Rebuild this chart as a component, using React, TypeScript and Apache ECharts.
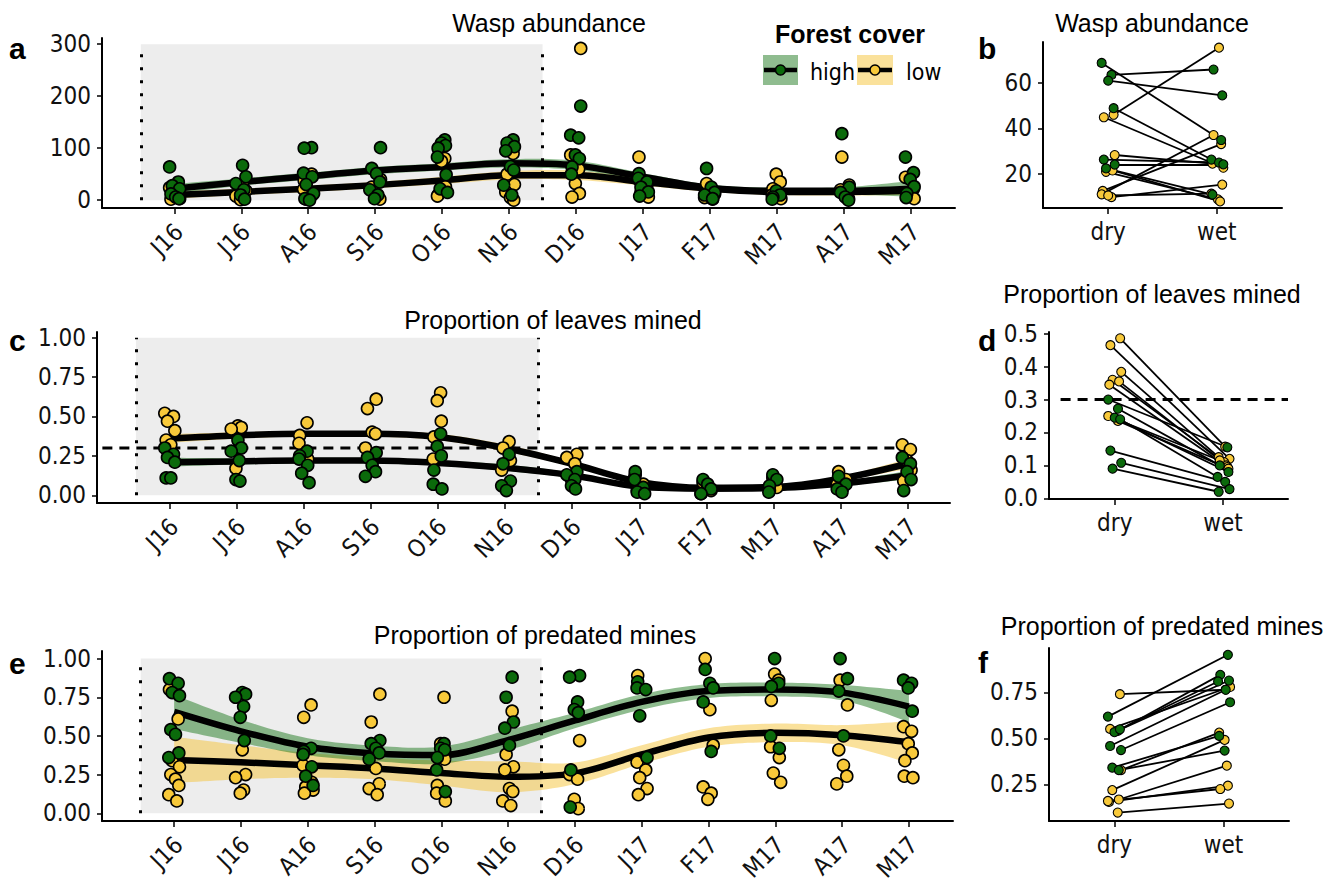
import React, { useEffect, useRef } from "react";
import * as echarts from "echarts";

// ---------------- categories ----------------
const months = ["J16", "J16", "A16", "S16", "O16", "N16", "D16", "J17", "F17", "M17", "A17", "M17"];
const seasons = ["dry", "wet"];

// ---------------- panel a: wasp abundance ----------------
const aHighPts = [
  [64, 35, 28, 22, 12, 6, 3],
  [67, 45, 32, 20, 10, 2],
  [101, 100, 52, 45, 30, 13, 3, 0],
  [101, 61, 51, 35, 20, 10, 3],
  [116, 110, 105, 100, 83, 49, 22, 15],
  [116, 110, 103, 95, 65, 58, 29, 10],
  [181, 125, 120, 87, 80, 64, 50],
  [51, 42, 35, 25, 16, 8],
  [61, 25, 15, 10, 3],
  [18, 10, 6, 2],
  [128, 25, 15, 6, 0],
  [83, 53, 40, 26, 13, 5],
];
const aLowPts = [
  [24, 15, 5, 3, 2],
  [30, 18, 8, 3, 1],
  [50, 38, 21, 10, 2],
  [40, 25, 10, 2],
  [80, 75, 26, 10, 8],
  [90, 50, 30, 16, 5, 0],
  [292, 87, 60, 32, 13, 6],
  [83, 40, 30, 15, 6],
  [32, 22, 12, 5, 2],
  [50, 35, 22, 10, 3],
  [83, 29, 20, 13, 3],
  [44, 22, 12, 3],
];
const aFitHigh = [22, 35, 46, 57, 64, 71, 67, 45, 24, 18, 18, 22];
const aBandHigh = [9, 7, 7, 7, 7, 8, 9, 7, 6, 6, 7, 15];
const aFitLow = [10, 16, 22, 29, 38, 48, 48, 35, 22, 16, 16, 18];
const aBandLow = [7, 6, 6, 6, 7, 8, 9, 7, 6, 6, 7, 8];
const aTicks = [0, 100, 200, 300];

// ---------------- panel b: wasp abundance dry vs wet ----------------
const bHighDry = [68.8, 63.5, 61.0, 48.9, 26.3, 24.1, 22.4];
const bHighWet = [34.9, 65.9, 54.5, 26.3, 25.0, 24.2, 10.9];
const bLowDry = [46.0, 44.9, 28.3, 20.9, 21.5, 12.5, 11.0, 9.8, 10.5];
const bLowWet = [75.5, 22.7, 24.5, 8.8, 7.9, 33.1, 37.1, 15.3, 11.3];
const bTicks = [20, 40, 60];

// ---------------- panel c: proportion of leaves mined ----------------
const cHighPts = [
  [0.30, 0.26, 0.24, 0.21, 0.11, 0.11],
  [0.35, 0.30, 0.28, 0.22, 0.10, 0.09],
  [0.28, 0.25, 0.23, 0.19, 0.14, 0.08],
  [0.27, 0.24, 0.19, 0.15, 0.12],
  [0.39, 0.31, 0.25, 0.16, 0.07, 0.04],
  [0.26, 0.20, 0.09, 0.06, 0.03],
  [0.15, 0.13, 0.10, 0.06, 0.04],
  [0.15, 0.10, 0.05, 0.02, 0.01],
  [0.10, 0.07, 0.04, 0.01],
  [0.13, 0.10, 0.06, 0.02],
  [0.12, 0.07, 0.04, 0.02],
  [0.24, 0.20, 0.15, 0.10, 0.03],
];
const cLowPts = [
  [0.52, 0.50, 0.47, 0.41, 0.35, 0.32],
  [0.44, 0.43, 0.42, 0.30, 0.17],
  [0.46, 0.38, 0.33, 0.23],
  [0.61, 0.55, 0.40, 0.39, 0.30],
  [0.65, 0.60, 0.47, 0.37, 0.23],
  [0.34, 0.30, 0.22, 0.16],
  [0.26, 0.24, 0.20, 0.10],
  [0.13, 0.11, 0.07, 0.03],
  [0.08, 0.05, 0.03, 0.01],
  [0.11, 0.05, 0.03],
  [0.15, 0.10, 0.07, 0.03],
  [0.32, 0.29, 0.22, 0.16, 0.09],
];
const cFitHigh = [0.21, 0.215, 0.22, 0.22, 0.205, 0.175, 0.127, 0.055, 0.042, 0.045, 0.074, 0.127];
const cBandHigh = [0.028, 0.02, 0.017, 0.017, 0.017, 0.02, 0.017, 0.014, 0.012, 0.012, 0.014, 0.028];
const cFitLow = [0.36, 0.38, 0.39, 0.39, 0.37, 0.30, 0.20, 0.085, 0.048, 0.052, 0.105, 0.20];
const cBandLow = [0.028, 0.02, 0.017, 0.017, 0.02, 0.022, 0.017, 0.014, 0.012, 0.012, 0.014, 0.032];
const cTicks = [0, 0.25, 0.5, 0.75, 1];
const cThreshold = 0.3;

// ---------------- panel d: leaves mined dry vs wet ----------------
const dHighDry = [0.30, 0.272, 0.245, 0.24, 0.145, 0.108, 0.09];
const dHighWet = [0.155, 0.10, 0.08, 0.065, 0.05, 0.028, 0.02];
const dLowDry = [0.486, 0.465, 0.384, 0.36, 0.355, 0.345, 0.25, 0.235];
const dLowWet = [0.157, 0.12, 0.125, 0.11, 0.10, 0.095, 0.115, 0.09];
const dTicks = [0, 0.1, 0.2, 0.3, 0.4, 0.5];

// ---------------- panel e: proportion of predated mines ----------------
const eHighPts = [
  [0.87, 0.84, 0.78, 0.76, 0.54, 0.51, 0.39, 0.36],
  [0.78, 0.77, 0.75, 0.69, 0.62, 0.47],
  [0.42, 0.40, 0.38, 0.30, 0.24, 0.18],
  [0.47, 0.45, 0.42, 0.39, 0.35],
  [0.45, 0.42, 0.41, 0.36, 0.28, 0.14],
  [0.88, 0.75, 0.59, 0.55, 0.44],
  [0.89, 0.88, 0.72, 0.67, 0.65, 0.28, 0.04],
  [0.85, 0.81, 0.80, 0.63, 0.36],
  [0.93, 0.84, 0.81, 0.72, 0.40],
  [1.0, 0.84, 0.82, 0.50, 0.42],
  [1.0, 0.87, 0.79, 0.50],
  [0.86, 0.84, 0.81, 0.66],
];
const eLowPts = [
  [0.80, 0.61, 0.34, 0.30, 0.25, 0.22, 0.18, 0.12, 0.08],
  [0.41, 0.25, 0.23, 0.15, 0.13],
  [0.70, 0.62, 0.31, 0.20, 0.17, 0.15, 0.13],
  [0.77, 0.59, 0.29, 0.19, 0.16, 0.12],
  [0.75, 0.45, 0.35, 0.18, 0.13, 0.08],
  [0.66, 0.38, 0.30, 0.28, 0.16, 0.14, 0.08, 0.05],
  [0.47, 0.25, 0.22, 0.09, 0.03],
  [0.89, 0.33, 0.28, 0.23, 0.16, 0.12],
  [1.0, 0.67, 0.44, 0.17, 0.13, 0.09],
  [0.90, 0.86, 0.73, 0.43, 0.36, 0.26, 0.20],
  [0.86, 0.70, 0.41, 0.31, 0.24, 0.19],
  [0.56, 0.53, 0.45, 0.39, 0.34, 0.24, 0.23],
];
const eFitHigh = [0.655, 0.53, 0.43, 0.387, 0.376, 0.473, 0.60, 0.72, 0.79, 0.80, 0.78, 0.69];
const eBandHigh = [0.11, 0.075, 0.055, 0.05, 0.055, 0.065, 0.05, 0.05, 0.045, 0.045, 0.05, 0.1];
const eFitLow = [0.345, 0.33, 0.31, 0.29, 0.26, 0.236, 0.258, 0.38, 0.49, 0.52, 0.505, 0.46];
const eBandLow = [0.15, 0.11, 0.08, 0.07, 0.08, 0.1, 0.07, 0.06, 0.06, 0.06, 0.065, 0.135];
const eTicks = [0, 0.25, 0.5, 0.75, 1];

// ---------------- panel f: predated mines dry vs wet ----------------
const fHighDry = [0.619, 0.541, 0.534, 0.55, 0.459, 0.437, 0.341, 0.328];
const fHighWet = [0.955, 0.846, 0.815, 0.81, 0.765, 0.697, 0.514, 0.434];
const fLowDry = [0.741, 0.552, 0.328, 0.219, 0.168, 0.155, 0.16, 0.097];
const fLowWet = [0.765, 0.78, 0.532, 0.492, 0.352, 0.243, 0.225, 0.146];
const fTicks = [0.25, 0.5, 0.75];

// ---------------- styling ----------------
const FONT_N = "'Liberation Sans Narrow','Arial Narrow','DejaVu Sans Condensed','Liberation Sans',sans-serif";
const FONT = "'Liberation Sans',Arial,Helvetica,sans-serif";
const GREEN = "#0b6a0b";
const YELLOW = "#f8c93a";
const GREEN_BAND = "rgba(31,121,31,0.5)";
const YELLOW_BAND = "rgba(245,195,55,0.5)";
const GRAY = "#ededed";

// deterministic horizontal jitter (display offsets only)
const JIT = [-0.07, 0.06, -0.03, 0.08, -0.05, 0.02, 0.07, -0.08, 0.04, -0.01, 0.05, -0.06];
const DRYJ = [-0.06, 0.03, 0.0, 0.05, -0.04, 0.06, -0.02, 0.04, -0.05];
const WETJ = [0.04, -0.03, 0.05, -0.05, 0.02, 0.06, -0.04, 0.01, 0.03];
const LABEL_SHIFT = 0.07;

function catmull(pts: number[][], steps = 12) {
  if (pts.length < 3) return pts;
  const out: number[][] = [];
  for (let i = 0; i < pts.length - 1; i++) {
    const p0 = pts[Math.max(0, i - 1)], p1 = pts[i], p2 = pts[i + 1], p3 = pts[Math.min(pts.length - 1, i + 2)];
    for (let s = 0; s < steps; s++) {
      const t = s / steps, t2 = t * t, t3 = t2 * t;
      const f = (a: number, b: number, c: number, d: number) =>
        0.5 * (2 * b + (-a + c) * t + (2 * a - 5 * b + 4 * c - d) * t2 + (-a + 3 * b - 3 * c + d) * t3);
      out.push([f(p0[0], p1[0], p2[0], p3[0]), f(p0[1], p1[1], p2[1], p3[1])]);
    }
  }
  out.push(pts[pts.length - 1]);
  return out;
}

const axisLine = { show: true, onZero: false, lineStyle: { color: "#000", width: 2 } };
const tickLine = { color: "#000", width: 1.5 };

function xTs(gi: number, min: number, max: number) {
  const vals = months.map((_, i) => i);
  return {
    type: "value", gridIndex: gi, min, max,
    axisLine,
    axisTick: { show: true, customValues: vals, length: 6, lineStyle: tickLine },
    axisLabel: {
      customValues: vals.map((v) => v + LABEL_SHIFT),
      formatter: (v: number) => months[Math.round(v)] ?? "",
      rotate: 45, margin: 20, fontFamily: FONT_N, fontSize: 24, color: "#111",
    },
    splitLine: { show: false },
  };
}
function xPair(gi: number, min: number, max: number) {
  return {
    type: "value", gridIndex: gi, min, max,
    axisLine,
    axisTick: { show: true, customValues: [0, 1], length: 6, lineStyle: tickLine },
    axisLabel: {
      customValues: [0, 1], formatter: (v: number) => seasons[Math.round(v)] ?? "",
      margin: 12, fontFamily: FONT_N, fontSize: 24, color: "#111",
    },
    splitLine: { show: false },
  };
}
function yAx(gi: number, min: number, max: number, ticks: number[], dec: number) {
  return {
    type: "value", gridIndex: gi, min, max,
    axisLine,
    axisTick: { show: true, customValues: ticks, length: 5, lineStyle: tickLine },
    axisLabel: {
      customValues: ticks, formatter: (v: number) => (dec > 0 ? v.toFixed(dec) : String(Math.round(v))),
      margin: 11, fontFamily: FONT_N, fontSize: 24, color: "#111",
    },
    splitLine: { show: false },
  };
}

function tsSeries(gi: number, hi: number[][], lo: number[][], fH: number[], bH: number[], fL: number[], bL: number[], top: number) {
  const ribbon = (fit: number[], band: number[], color: string) => ({
    type: "custom", xAxisIndex: gi, yAxisIndex: gi, z: 2, silent: true,
    data: [[0, fit[0]]],
    renderItem: (_p: any, api: any) => {
      const up = fit.map((f, i) => api.coord([i, f + band[i]]));
      const dn = fit.map((f, i) => api.coord([i, f - band[i]]));
      const pts = catmull(up).concat(catmull(dn).reverse());
      return { type: "polygon", shape: { points: pts }, style: { fill: color } };
    },
  });
  const fitLine = (fit: number[]) => ({
    type: "line", xAxisIndex: gi, yAxisIndex: gi, z: 3, silent: true,
    data: fit.map((f, i) => [i, f]), smooth: 0.33, symbol: "none",
    lineStyle: { color: "#000", width: 6.5 },
  });
  const scatter = (groups: number[][], color: string, z: number) => {
    const data: number[][] = [];
    groups.forEach((vals, i) => vals.forEach((v, k) => data.push([i + JIT[(k + i * 5) % JIT.length], v])));
    return {
      type: "scatter", xAxisIndex: gi, yAxisIndex: gi, z, silent: true, data, symbolSize: 12,
      itemStyle: { color, borderColor: "#000", borderWidth: 1.6, opacity: 1 },
    };
  };
  return [
    {
      type: "line", xAxisIndex: gi, yAxisIndex: gi, data: [], silent: true, z: 0,
      markArea: { silent: true, itemStyle: { color: GRAY }, data: [[{ coord: [-0.5, 0] }, { coord: [5.5, top] }]] },
      markLine: {
        silent: true, symbol: ["none", "none"], label: { show: false },
        lineStyle: { color: "#000", width: 3, type: [3, 10] },
        data: [
          [{ coord: [-0.5, 0] }, { coord: [-0.5, top] }],
          [{ coord: [5.5, 0] }, { coord: [5.5, top] }],
        ],
      },
    },
    ribbon(fL, bL, YELLOW_BAND),
    ribbon(fH, bH, GREEN_BAND),
    fitLine(fL),
    fitLine(fH),
    scatter(lo, YELLOW, 4),
    scatter(hi, GREEN, 5),
  ];
}

function pairSeries(gi: number, hd: number[], hw: number[], ld: number[], lw: number[]) {
  const hiSegs = hd.map((d, k) => [[DRYJ[k % DRYJ.length], d], [1 + WETJ[k % WETJ.length], hw[k]]]);
  const loSegs = ld.map((d, k) => [[DRYJ[(k + 3) % DRYJ.length], d], [1 + WETJ[(k + 4) % WETJ.length], lw[k]]]);
  const pts = (segs: number[][][], color: string, z: number) => ({
    type: "scatter", xAxisIndex: gi, yAxisIndex: gi, z, silent: true,
    data: segs.flat(), symbolSize: 9,
    itemStyle: { color, borderColor: "#000", borderWidth: 1.1, opacity: 1 },
  });
  return [
    {
      type: "lines", coordinateSystem: "cartesian2d", xAxisIndex: gi, yAxisIndex: gi, z: 2, silent: true,
      data: hiSegs.concat(loSegs).map((c) => ({ coords: c })),
      lineStyle: { color: "#000", width: 1.8, opacity: 1 },
    },
    pts(loSegs, YELLOW, 3),
    pts(hiSegs, GREEN, 4),
  ];
}

function hline(gi: number, x0: number, x1: number, y: number) {
  return {
    type: "line", xAxisIndex: gi, yAxisIndex: gi, z: 3, silent: true, symbol: "none",
    data: [[x0, y], [x1, y]],
    lineStyle: { color: "#000", width: 3, type: [10, 7] },
  };
}

function txt(text: string, x: number, y: number, size: number, opts: any = {}) {
  return {
    type: "text", x, y, z: 10, silent: true,
    style: {
      text, fill: "#000", font: `${opts.bold ? "bold " : ""}${size}px ${opts.font || FONT}`,
      textAlign: opts.align || "center", textVerticalAlign: "middle",
    },
  };
}

export default function App() {
  const ref = useRef<HTMLDivElement>(null);
  useEffect(() => {
    if (!ref.current) return;
    const chart = echarts.init(ref.current, undefined, { renderer: "svg" });
    const option: any = {
      animation: false,
      backgroundColor: "#fff",
      grid: [
        { left: 102, top: 38, width: 853, height: 170 },
        { left: 1043, top: 42, width: 239, height: 166 },
        { left: 97, top: 332, width: 853, height: 171 },
        { left: 1049, top: 332, width: 239, height: 167 },
        { left: 102, top: 651, width: 851, height: 170 },
        { left: 1049, top: 648, width: 240, height: 173 },
      ],
      xAxis: [
        xTs(0, -1.08, 11.66),
        xPair(1, -0.6, 1.6),
        xTs(2, -1.08, 11.63),
        xPair(3, -0.607, 1.6),
        xTs(4, -1.08, 11.66),
        xPair(5, -0.6, 1.6),
      ],
      yAxis: [
        yAx(0, -15, 312, aTicks, 0),
        yAx(1, 5, 78, bTicks, 0),
        yAx(2, -0.049, 1.036, cTicks, 2),
        yAx(3, -0.002, 0.505, dTicks, 1),
        yAx(4, -0.05, 1.049, eTicks, 2),
        yAx(5, 0.051, 0.992, fTicks, 2),
      ],
      series: [
        ...tsSeries(0, aHighPts, aLowPts, aFitHigh, aBandHigh, aFitLow, aBandLow, 300),
        ...pairSeries(1, bHighDry, bHighWet, bLowDry, bLowWet),
        ...tsSeries(2, cHighPts, cLowPts, cFitHigh, cBandHigh, cFitLow, cBandLow, 1),
        hline(2, -1, 11, cThreshold),
        ...pairSeries(3, dHighDry, dHighWet, dLowDry, dLowWet),
        hline(3, -0.5, 1.6, cThreshold),
        ...tsSeries(4, eHighPts, eLowPts, eFitHigh, eBandHigh, eFitLow, eBandLow, 1),
        ...pairSeries(5, fHighDry, fHighWet, fLowDry, fLowWet),
      ],
      graphic: [
        txt("Wasp abundance", 549, 23, 25),
        txt("Wasp abundance", 1152, 23, 25),
        txt("Proportion of leaves mined", 553, 320, 25),
        txt("Proportion of leaves mined", 1152, 294, 25),
        txt("Proportion of predated mines", 535, 635, 25),
        txt("Proportion of predated mines", 1162, 626, 25),
        txt("a", 9, 48, 30, { bold: true, align: "left" }),
        txt("b", 978, 48, 30, { bold: true, align: "left" }),
        txt("c", 9, 340, 30, { bold: true, align: "left" }),
        txt("d", 978, 340, 30, { bold: true, align: "left" }),
        txt("e", 9, 663, 30, { bold: true, align: "left" }),
        txt("f", 978, 662, 30, { bold: true, align: "left" }),
        // legend
        txt("Forest cover", 850, 34, 25, { bold: true }),
        { type: "rect", z: 10, silent: true, shape: { x: 763, y: 55, width: 35, height: 30 }, style: { fill: GREEN_BAND } },
        { type: "line", z: 11, silent: true, shape: { x1: 764, y1: 70, x2: 797, y2: 70 }, style: { stroke: "#000", lineWidth: 4.5 } },
        { type: "circle", z: 12, silent: true, shape: { cx: 780.5, cy: 70, r: 5 }, style: { fill: GREEN, stroke: "#000", lineWidth: 1.5 } },
        txt("high", 810, 72, 23, { align: "left", font: FONT_N }),
        { type: "rect", z: 10, silent: true, shape: { x: 857, y: 55, width: 36, height: 30 }, style: { fill: YELLOW_BAND } },
        { type: "line", z: 11, silent: true, shape: { x1: 858, y1: 70, x2: 892, y2: 70 }, style: { stroke: "#000", lineWidth: 4.5 } },
        { type: "circle", z: 12, silent: true, shape: { cx: 875, cy: 70, r: 5 }, style: { fill: YELLOW, stroke: "#000", lineWidth: 1.5 } },
        txt("low", 906, 72, 23, { align: "left", font: FONT_N }),
      ],
    };
    chart.setOption(option);
    return () => chart.dispose();
  }, []);
  return <div ref={ref} style={{ position: "fixed", left: 0, top: 0, width: 1338, height: 885 }} />;
}
